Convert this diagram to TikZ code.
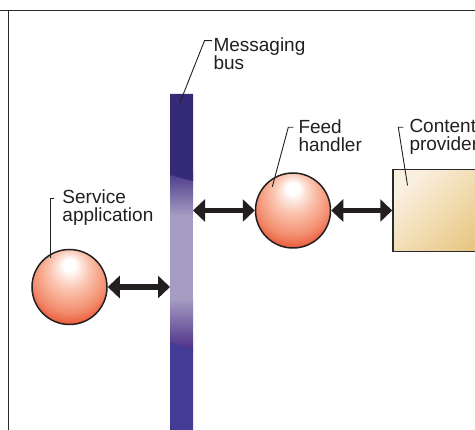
\documentclass[tikz,border=0pt]{standalone}
\usepackage{fontspec}
\setmainfont{Liberation Sans}
\usetikzlibrary{arrows.meta,calc}

\definecolor{ink}{HTML}{231F20}
\definecolor{framegray}{HTML}{2A2A2A}
% sphere tones
\definecolor{sphA}{HTML}{FDE4DA}
\definecolor{sphB}{HTML}{FAC6B2}
\definecolor{sphC}{HTML}{F7A98E}
\definecolor{sphD}{HTML}{F28B6C}
\definecolor{sphE}{HTML}{EA5A3C}
% bus tones
\definecolor{busnavy}{HTML}{342A78}
\definecolor{busdeep}{HTML}{4E3E8C}
\definecolor{buslav}{HTML}{A59CC2}
\definecolor{busplum}{HTML}{4A2C88}
\definecolor{busblue}{HTML}{443B97}
% box tones
\definecolor{boxlight}{HTML}{FAF0E0}
\definecolor{boxdark}{HTML}{E8C783}

% off-centre highlight for the spheres
\pgfdeclareradialshading{sphereshade}{\pgfpoint{0bp}{16bp}}{%
  color(0bp)=(white); color(4bp)=(white); color(8bp)=(sphA);
  color(13bp)=(sphB); color(19bp)=(sphC); color(25bp)=(sphD);
  color(31bp)=(sphE); color(50bp)=(sphE)}

\begin{document}
\begin{tikzpicture}[x=1pt,y=-1pt,
  sphere/.style={circle, draw=ink, line width=1.5pt, minimum size=75pt,
    inner sep=0pt, shade, shading=sphereshade},
  provider/.style={rectangle, draw=framegray, line width=1.5pt,
    minimum width=100pt, minimum height=82pt, inner sep=0pt,
    shade, top color=boxlight, bottom color=boxdark, shading angle=45},
  biarrow/.style={draw=ink, line width=5.5pt,
    {Triangle[length=12pt,width=22pt]}-{Triangle[length=12pt,width=22pt]}},
  leader/.style={draw=ink, line width=0.9pt},
  caption/.style={font=\fontsize{19}{18}\selectfont, align=left,
    inner sep=0pt, anchor=north west, text=ink},
  frameline/.style={draw=framegray, line width=1.6pt}]

\useasboundingbox (0,0) rectangle (475,430);
\clip (0,0) rectangle (475,430);

% outer frame
\draw[frameline] (0,10.5) -- (475,10.5);
\draw[frameline] (8.3,10.5) -- (8.3,430);

% messaging bus
\node[minimum width=23pt, minimum height=336pt, inner sep=0pt, outer sep=0pt] (bus) at (181.5,262) {};
\shade[top color=busdeep, bottom color=buslav] (170,174) rectangle (193,216);
\fill[buslav] (170,215) rectangle (193,300);
\shade[top color=buslav, bottom color=busplum] (170,299) rectangle (193,351);
\fill[busnavy] (170,94) -- (193,94) -- (193,181) -- (170,175) -- cycle;
\fill[busblue] (170,342) -- (193,350) -- (193,430.5) -- (170,430.5) -- cycle;

% components
\node[sphere] (svc) at (69.5,287) {};
\node[sphere] (feed) at (293,210.5) {};
\node[provider] (cp) at (443,210.5) {};

% connections
\draw[biarrow] (svc.east) -- (bus.west |- svc.east);
\draw[biarrow] (bus.east |- feed.west) -- (feed.west);
\draw[biarrow] (feed.east) -- (cp.west |- feed.east);

% captions
\node[caption] (lbus) at (213.3,37.9) {Messaging\\bus};
\node[caption] (lsvc) at (62.3,189.5) {Service\\application};
\node[caption] (lfeed) at (298.3,119.5) {Feed\\handler};
\node[caption] (lcp) at (409.3,119.5) {Content\\provider};

% leader lines
\coordinate (busknee) at (204.5,40.7);
\draw[leader] ($(bus.north)+(-1.5,8.5)$) -- (busknee) -- ($(lbus.north west)+(-1.3,2.8)$);
\coordinate (svcknee) at (50,198);
\draw[leader] ($(svc.center)+(-19.5,-29)$) -- (svcknee) -- ($(lsvc.north west)+(-8.8,8.5)$);
\coordinate (feedknee) at (288.3,127.3);
\draw[leader] ($(feed.center)+(-20.7,-23.8)$) -- (feedknee) -- ($(lfeed.north west)+(-5,7.8)$);
\coordinate (cpknee) at (398.3,127.3);
\draw[leader] ($(cp.north west)+(15.3,16.7)$) -- (cpknee) -- ($(lcp.north west)+(-6,7.8)$);

\end{tikzpicture}
\end{document}
